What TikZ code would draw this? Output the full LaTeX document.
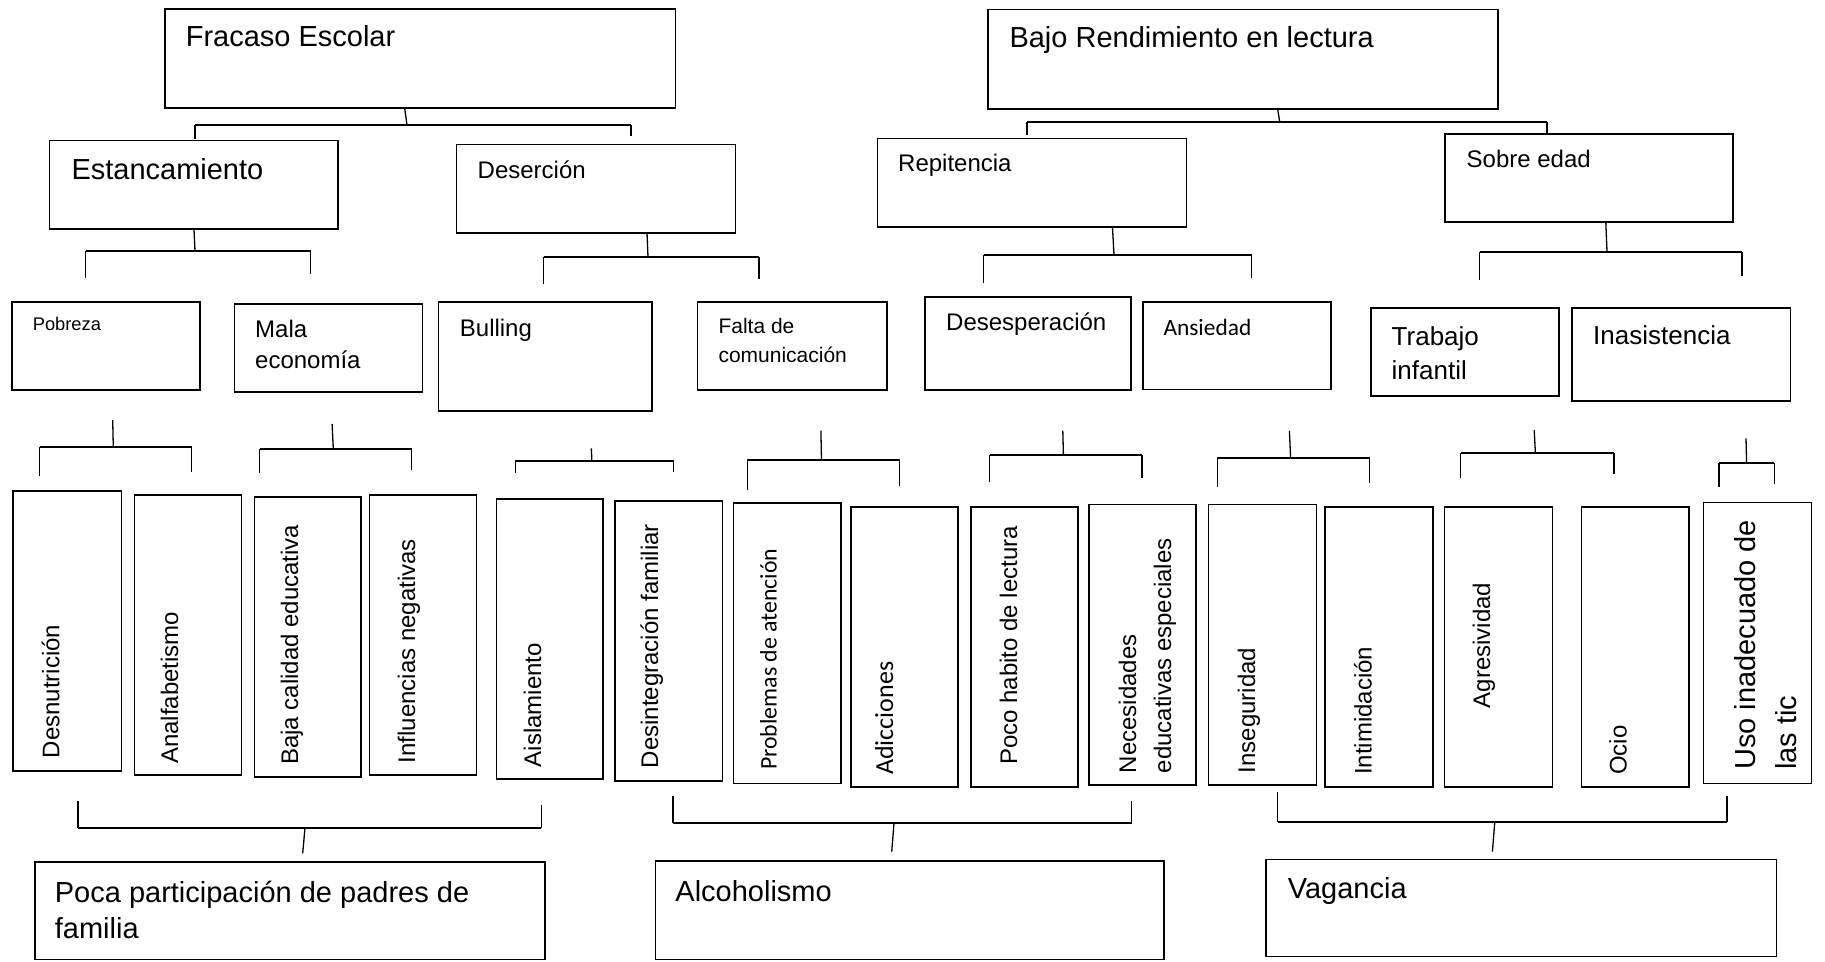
\documentclass[tikz,border=0pt]{standalone}
\usepackage{fontspec}
\setmainfont{Liberation Sans}
\newfontfamily\calib{Carlito}
\usetikzlibrary{fit}
\newcommand\fs[1]{\fontsize{#1}{#1}\selectfont}
\newcommand\bxx[5]{\node[bx, fit={(#2,#3)(#4,#5)}] (#1) {};}
% top-down bracket: name, stub x1,y1, stub x2, bar y, bar x1, bar x2, left tick end, right tick end
\newcommand\topbr[9]{%
  \coordinate (#1s) at (#2,#3);
  \coordinate (#1j) at (#4,#5);
  \coordinate (#1l) at (#6,#5);
  \coordinate (#1r) at (#7,#5);
  \coordinate (#1lt) at (#6,#8);
  \coordinate (#1rt) at (#7,#9);
  \draw[cn] (#1s) -- (#1j);
  \draw[barln] (#1l) -- (#1r);
  \draw[cn] (#1l) -- (#1lt);
  \draw[cn] (#1r) -- (#1rt);
}
% bottom-up bracket: name, bar y, bar x1, bar x2, left tick top, right tick top, stub x1, stub x2, stub end y
\newcommand\botbr[9]{%
  \coordinate (#1l) at (#3,#2);
  \coordinate (#1r) at (#4,#2);
  \coordinate (#1lt) at (#3,#5);
  \coordinate (#1rt) at (#4,#6);
  \coordinate (#1j) at (#7,#2);
  \coordinate (#1s) at (#8,#9);
  \draw[barln] (#1l) -- (#1r);
  \draw[cn] (#1l) -- (#1lt);
  \draw[cn] (#1r) -- (#1rt);
  \draw[cn] (#1j) -- (#1s);
}
\begin{document}
\begin{tikzpicture}[x=1pt,y=-1pt,
  bx/.style={draw, line width=1.6pt, inner sep=0pt},
  tx/.style={anchor=base west, inner sep=0pt},
  vt/.style={rotate=90, anchor=base west, inner sep=0pt, font={\fs{24}}},
  cn/.style={line width=1.3pt},
  barln/.style={line width=2.2pt},
]
\useasboundingbox[fill=white] (0,0) rectangle (1825,961);

% ---------- level 0 ----------
\bxx{fracaso}{164.8}{9}{675.3}{107.7}
\bxx{bajo}{988}{9.3}{1498}{108.7}
\node[tx, font={\fs{29}}] (tfracaso) at (185.6,46.7) {Fracaso Escolar};
\node[tx, font={\fs{29}}] (tbajo) at (1009.3,47.7) {Bajo Rendimiento en lectura};

% ---------- level 1 ----------
\bxx{estanc}{49.4}{140.3}{337.9}{229}
\bxx{desercion}{456.6}{144.3}{735.3}{232.7}
\bxx{repit}{877.5}{138.3}{1186.6}{227}
\bxx{sobre}{1444.8}{133.7}{1732.8}{222}
\node[tx, font={\fs{29}}] (testanc) at (71.3,179.3) {Estancamiento};
\node[tx, font={\fs{24}}] (tdesercion) at (477.5,178.3) {Deserción};
\node[tx, font={\fs{24}}] (trepit) at (898,171.7) {Repitencia};
\node[tx, font={\fs{24}}] (tsobre) at (1466.5,167) {Sobre edad};

% ---------- level 2 ----------
\bxx{pobreza}{11.9}{302}{199.9}{390}
\bxx{mala}{234.3}{303.7}{422.3}{392}
\bxx{bulling}{438.3}{302}{651.8}{410.7}
\bxx{falta}{697.5}{302}{886.7}{390}
\bxx{desesp}{924.8}{296.7}{1130.7}{390}
\bxx{ansiedad}{1143}{301.7}{1330.7}{389.5}
\bxx{trabajo}{1370.8}{307.7}{1559}{396}
\bxx{inasist}{1572}{307.7}{1790.5}{401}
\node[tx, font={\fs{18.3}}] (tpobreza) at (32.6,330) {Pobreza};
\node[tx, font={\fs{24}}] (tmala1) at (255,337.5) {Mala};
\node[tx, font={\fs{24}}] (tmala2) at (255,368.5) {economía};
\node[tx, font={\fs{24}}] (tbulling) at (459.7,336) {Bulling};
\node[tx, font={\fs{21}}] (tfalta1) at (718.3,333.3) {Falta de};
\node[tx, font={\fs{21}}] (tfalta2) at (718.3,362) {comunicación};
\node[tx, font={\fs{24}}] (tdesesp) at (946,330.5) {Desesperación};
\node[tx, font={\calib\fs{23.4}}] (tansiedad) at (1163.3,335) {Ansiedad};
\node[tx, font={\fs{26}}] (ttrabajo1) at (1391.5,345) {Trabajo};
\node[tx, font={\fs{26}}] (ttrabajo2) at (1391.5,379) {infantil};
\node[tx, font={\fs{26}}] (tinasist) at (1593,344) {Inasistencia};

% ---------- level 3 (vertical boxes) ----------
\bxx{desn}{13}{490.7}{121.6}{771}
\bxx{analf}{134.6}{495}{241.4}{775}
\bxx{baja}{254.4}{496.7}{361.2}{776.7}
\bxx{infl}{369.5}{495}{476.3}{775}
\bxx{aisl}{496.4}{499}{603.2}{779}
\bxx{desi}{615}{501}{722.4}{781}
\bxx{prob}{733.3}{503}{840.7}{783.3}
\bxx{adic}{851}{506.7}{958}{786.7}
\bxx{poco}{970.8}{506.7}{1078.2}{786.7}
\bxx{nece}{1088.8}{504.3}{1196.2}{785}
\bxx{inse}{1208.6}{504.3}{1316.5}{785}
\bxx{inti}{1324.8}{506.7}{1432.7}{786.7}
\bxx{agre}{1444.5}{506.7}{1552.5}{786.7}
\bxx{ocio}{1581.4}{506.7}{1688.8}{786.7}
\bxx{uso}{1703.5}{502.3}{1811.5}{783.3}
\node[vt] (tdesn) at (59.3,758.3) {Desnutrición};
\node[vt] (tanalf) at (178,764) {Analfabetismo};
\node[vt] (tbaja) at (298,765) {Baja calidad educativa};
\node[vt] (tinfl) at (415,763.3) {Influencias negativas};
\node[vt] (taisl) at (541,767.3) {Aislamiento};
\node[vt] (tdesi) at (658,768.3) {Desintegración familiar};
\node[vt, font={\calib\fs{23.8}}] (tprob) at (776.5,770) {Problemas de atención};
\node[vt, font={\calib\fs{26}}] (tadic) at (893,775) {Adicciones};
\node[vt] (tpoco) at (1017,765) {Poco habito de lectura};
\node[vt] (tnec1) at (1136,773.3) {Necesidades};
\node[vt] (tnec2) at (1171,773.3) {educativas especiales};
\node[vt] (tinse) at (1255,773.3) {Inseguridad};
\node[vt] (tinti) at (1371.5,775) {Intimidación};
\node[vt] (tagre) at (1490,708.3) {Agresividad};
\node[vt] (tocio) at (1626.5,775) {Ocio};
\node[vt, font={\fs{29}}] (tuso1) at (1755,770) {Uso inadecuado de};
\node[vt, font={\fs{29}}] (tuso2) at (1796,770) {las tic};

% ---------- level 4 ----------
\bxx{poca}{34.9}{861.7}{545}{959.5}
\bxx{alcohol}{655.4}{861}{1164.1}{959.5}
\bxx{vagancia}{1265.8}{859.5}{1776.5}{956.5}
\node[tx, font={\fs{29}}] (tpoca1) at (54.7,902) {Poca participación de padres de};
\node[tx, font={\fs{29}}] (tpoca2) at (54.7,938.5) {familia};
\node[tx, font={\fs{29}}] (talcohol) at (675.2,901) {Alcoholismo};
\node[tx, font={\fs{29}}] (tvagancia) at (1287.7,898.3) {Vagancia};

% ---------- connectors ----------
\topbr{bf}{404.7}{108.5}{407}{125}{195}{631}{139}{136}
\topbr{bb}{1277.7}{109.5}{1279.7}{121.7}{1027}{1547}{135}{133}
\topbr{be}{194}{229.5}{195}{251}{85.5}{310.5}{278}{274}
\topbr{bd}{647}{233}{648}{257}{543.5}{759}{284}{279}
\topbr{br}{1112.5}{227.5}{1114}{255}{983.5}{1251.5}{282.7}{278}
\topbr{bs}{1605.8}{222.5}{1607}{251.7}{1479.5}{1742}{280}{276}
\topbr{bp}{112.7}{420}{113.3}{447.3}{39.7}{191.6}{475.7}{471.7}
\topbr{bm}{332.1}{424}{333.3}{449}{259.8}{411.6}{473.3}{470}
\topbr{bu}{591.3}{448.3}{591.9}{461}{515.4}{673.8}{473}{472.3}
\topbr{bfa}{820.9}{430.7}{821.5}{460}{747.3}{899.8}{490}{485.7}
\topbr{bds}{1062.8}{430.7}{1063.4}{455}{989.7}{1141.9}{481.7}{477.7}
\topbr{ba}{1289.4}{430.7}{1290.6}{458.3}{1217.4}{1369.6}{487.3}{483.3}
\topbr{bt}{1534.2}{430}{1535.4}{453.3}{1460.5}{1613.9}{477.7}{474}
\topbr{bi}{1746}{438.3}{1746.6}{462.7}{1718.9}{1774.3}{487.3}{484}
\botbr{bpo}{827.7}{78}{541.3}{800.7}{805}{305}{302.7}{853.3}
\botbr{bal}{823.3}{672.9}{1131.5}{796}{800.7}{894}{891.7}{851.7}
\botbr{bva}{821.7}{1277.5}{1727}{791.7}{796}{1494.8}{1492.4}{851.7}
\end{tikzpicture}
\end{document}
